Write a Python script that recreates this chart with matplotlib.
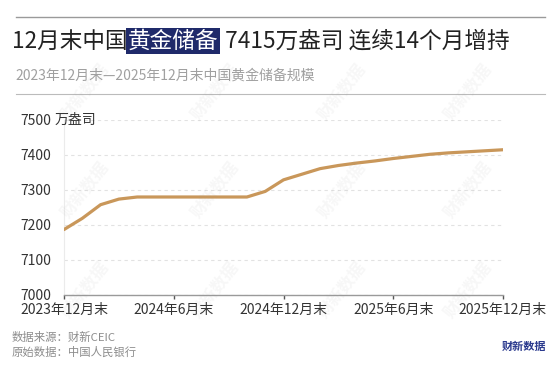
import matplotlib
matplotlib.use('Agg')
import matplotlib.pyplot as plt
from matplotlib.lines import Line2D

plt.rcParams['font.family'] = ['Noto Sans CJK SC', 'DejaVu Sans']

# China gold reserves, end of month, 10k troy ounces (2023-12 .. 2025-12)
months = ['2023-12', '2024-01', '2024-02', '2024-03', '2024-04', '2024-05',
          '2024-06', '2024-07', '2024-08', '2024-09', '2024-10', '2024-11',
          '2024-12', '2025-01', '2025-02', '2025-03', '2025-04', '2025-05',
          '2025-06', '2025-07', '2025-08', '2025-09', '2025-10', '2025-11',
          '2025-12']
reserves = [7187, 7219, 7258, 7274, 7280, 7280,
            7280, 7280, 7280, 7280, 7280, 7296,
            7329, 7345, 7361, 7370, 7377, 7383,
            7390, 7396, 7402, 7406, 7409, 7412,
            7415]
tick_pos = [0, 6, 12, 18, 24]
tick_labels = ['2023年12月末', '2024年6月末', '2024年12月末', '2025年6月末', '2025年12月末']
y_ticks = [7000, 7100, 7200, 7300, 7400, 7500]

W, H = 560, 373
fig = plt.figure(figsize=(W / 100, H / 100), dpi=100)
fig.patch.set_facecolor('white')

# plot area
ax = fig.add_axes([64 / W, 1 - 295 / H, (503 - 64) / W, (295 - 120) / H])
x = list(range(len(months)))
ax.plot(x, reserves, color='#C9975A', linewidth=2.3, solid_capstyle='round', zorder=3)
ax.set_xlim(0, 24)
ax.set_ylim(7000, 7500)
ax.set_yticks(y_ticks)
ax.set_yticklabels([str(v) for v in y_ticks], fontsize=10, color='#333333')
ax.set_xticks(tick_pos)
ax.set_xticklabels(tick_labels, fontsize=10, color='#333333')
ax.tick_params(axis='y', length=0, pad=9)
ax.tick_params(axis='x', length=3, width=1, color='#555555', pad=3)
ax.grid(axis='y', color='#E2E2E2', linestyle=(0, (3, 3)), linewidth=0.8)
for s in ['top', 'right']:
    ax.spines[s].set_visible(False)
ax.spines['left'].set_color('#EBEBEB')
ax.spines['left'].set_linewidth(0.8)
ax.spines['bottom'].set_color('#9A9A9A')
ax.spines['bottom'].set_linewidth(1.0)
ax.text(55 / W, 1 - 120 / H, '万盎司', transform=fig.transFigure, fontsize=10,
        color='#333333', ha='left', va='center')

# separator lines
fig.add_artist(Line2D([16 / W, 545 / W], [1 - 17 / H, 1 - 17 / H], color='#9A9A9A', linewidth=1.0))
fig.add_artist(Line2D([16 / W, 545 / W], [1 - 94 / H, 1 - 94 / H], color='#BBBBBB', linewidth=0.8))

# title with highlighted part
renderer = fig.canvas.get_renderer()
ty = 1 - 41 / H
parts = [('12月末中国', False), ('黄金储备', True), (' 7415万盎司 连续14个月增持', False)]
cur = 12 / W
for txt, hl in parts:
    kw = dict(fontsize=16.3, color='#222222', ha='left', va='center')
    if hl:
        kw['color'] = 'white'
        kw['bbox'] = dict(boxstyle='square,pad=0.08', facecolor='#1F2A6A', edgecolor='none')
    t = fig.text(cur, ty, txt, **kw)
    bb = t.get_window_extent(renderer)
    cur = bb.x1 / fig.bbox.width
    if hl:
        cur += 2 / W

fig.text(15 / W, 1 - 76 / H, '2023年12月末—2025年12月末中国黄金储备规模',
         fontsize=10, color='#A0A0A0', ha='left', va='center')

# footer
fig.text(12 / W, 1 - 337 / H, '数据来源：财新CEIC', fontsize=8.2, color='#8C8C8C', ha='left', va='center')
fig.text(12 / W, 1 - 352 / H, '原始数据：中国人民银行', fontsize=8.2, color='#8C8C8C', ha='left', va='center')
fig.text(546 / W, 1 - 346 / H, '财新数据', fontsize=8, fontweight='bold', color='#2B3A8E',
         ha='right', va='center')

# faint watermarks
for wy in [92, 190, 290]:
    for wx in [85, 215, 342, 468]:
        fig.text(wx / W, 1 - wy / H, '财新数据', fontsize=12, fontweight='bold', color='#999999',
                 alpha=0.08, rotation=52, ha='center', va='center', zorder=10)

fig.savefig('out.png', dpi=100, facecolor='white')
